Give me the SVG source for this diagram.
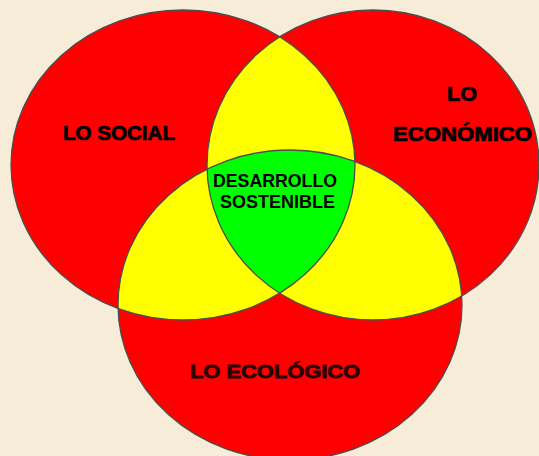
<svg xmlns="http://www.w3.org/2000/svg" width="539" height="456" viewBox="0 0 539 456">
<style>
.red{fill:#FF0000}
.yel{fill:#FFFF00}
.grn{fill:#00FF00}
.edge{fill:none;stroke:#4d4d4d;stroke-width:1.3}
.lbl{font-family:"Liberation Sans",Arial,sans-serif;font-weight:bold;fill:#000}
.heavy{stroke:#000;stroke-width:0.7}
.dark{fill:#2a0000;stroke:#2a0000;stroke-width:0.8}
</style>
<defs>
<clipPath id="cL"><ellipse cx="183" cy="165" rx="172" ry="155"/></clipPath>
<clipPath id="cR"><ellipse cx="373" cy="165" rx="166" ry="155"/></clipPath>
<clipPath id="cB"><ellipse cx="290" cy="305" rx="172" ry="155"/></clipPath>
</defs>
<rect width="539" height="456" fill="#F7ECD8"/>
<g id="social">
<ellipse class="red" cx="183" cy="165" rx="172" ry="155"/>
</g>
<g id="economico">
<ellipse class="red" cx="373" cy="165" rx="166" ry="155"/>
</g>
<g id="ecologico">
<ellipse class="red" cx="290" cy="305" rx="172" ry="155"/>
</g>
<g id="overlaps">
<ellipse class="yel" cx="183" cy="165" rx="172" ry="155" clip-path="url(#cR)"/>
<ellipse class="yel" cx="183" cy="165" rx="172" ry="155" clip-path="url(#cB)"/>
<ellipse class="yel" cx="373" cy="165" rx="166" ry="155" clip-path="url(#cB)"/>
</g>
<g id="desarrollo">
<g clip-path="url(#cB)">
<ellipse class="grn" cx="183" cy="165" rx="172" ry="155" clip-path="url(#cR)"/>
</g>
</g>
<g id="outlines">
<ellipse class="edge" cx="183" cy="165" rx="172" ry="155"/>
<ellipse class="edge" cx="373" cy="165" rx="166" ry="155"/>
<ellipse class="edge" cx="290" cy="305" rx="172" ry="155"/>
</g>
<g id="labels">
<text class="lbl heavy" x="63" y="140" font-size="20" textLength="112" lengthAdjust="spacingAndGlyphs">LO SOCIAL</text>
<text class="lbl heavy" x="447" y="101" font-size="20" textLength="30" lengthAdjust="spacingAndGlyphs">LO</text>
<text class="lbl heavy" x="393" y="141" font-size="20" textLength="139" lengthAdjust="spacingAndGlyphs">ECONÓMICO</text>
<text class="lbl dark" x="190" y="378" font-size="18.5" textLength="170" lengthAdjust="spacingAndGlyphs">LO ECOLÓGICO</text>
<text class="lbl" x="213" y="187" font-size="18.5" textLength="124" lengthAdjust="spacingAndGlyphs">DESARROLLO</text>
<text class="lbl" x="220" y="208" font-size="18" textLength="115" lengthAdjust="spacingAndGlyphs">SOSTENIBLE</text>
</g>
</svg>
